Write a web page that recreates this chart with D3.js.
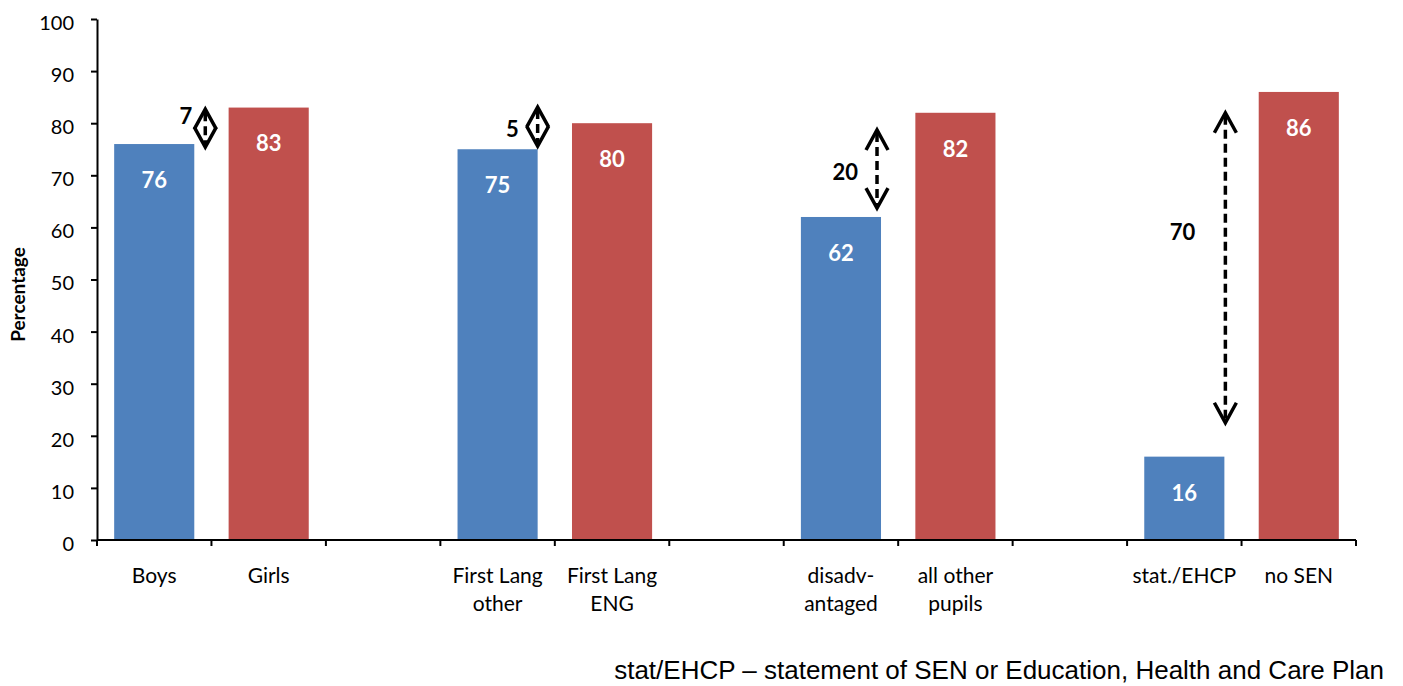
<!DOCTYPE html>
<html>
<head>
<meta charset="utf-8">
<script src="https://cdn.jsdelivr.net/npm/d3@7"></script>
<style>
  body { margin: 0; background: #fff; }
  svg { display: block; }
</style>
</head>
<body>
<svg width="1403" height="686"></svg>
<script>
// chart data
var categories = ["Boys", "Girls", "", "First Lang\nother", "First Lang\nENG", "",
                  "disadv-\nantaged", "all other\npupils", "", "stat./EHCP", "no SEN"];
var values = [76, 83, null, 75, 80, null, 62, 82, null, 16, 86];
var seriesOf = [0, 1, null, 0, 1, null, 0, 1, null, 0, 1];
var yTicks = [0, 10, 20, 30, 40, 50, 60, 70, 80, 90, 100];

// gap arrows (values in percentage units)
var gapLabels = [7, 5, 20, 70];
var gapCategory = [0, 3, 6, 9];
var gapTop = [82.7, 83.1, 78.7, 82];
var gapBottom = [75.4, 75.6, 63.7, 22.5];
var gapLabelY = [81.4, 78.9, 70.6, 59.1];

var footnote = "stat/EHCP \u2013 statement of SEN or Education, Health and Care Plan";

// layout / style
var colors = ["#4F81BD", "#C0504D"];
var arrowDx = [11, 0, -4, 1];
var labelDx = [-13, -19, -19, -30];
var font = "Lato, 'Open Sans', sans-serif";

var svg = d3.select("svg"),
    width = +svg.attr("width"),
    height = +svg.attr("height");

var plotLeft = 97, plotRight = 1356, plotTop = 19, plotBottom = 540;

var x = d3.scaleBand()
    .domain(d3.range(categories.length))
    .range([plotLeft, plotRight])
    .paddingInner(0.3)
    .paddingOuter(0.15);

var y = d3.scaleLinear()
    .domain([0, 100])
    .range([plotBottom, plotTop]);

// y axis
var yAxis = svg.append("g")
    .attr("transform", "translate(" + plotLeft + ",0)")
    .call(d3.axisLeft(y).tickValues(yTicks).tickSize(6).tickPadding(17).tickSizeOuter(0));
yAxis.select(".domain").attr("stroke", "#000").attr("stroke-width", 2);
yAxis.selectAll(".tick line").attr("stroke", "#000").attr("stroke-width", 2);
yAxis.selectAll(".tick text")
    .attr("font-family", font)
    .attr("font-size", 20)
    .attr("fill", "#000")
    .attr("dy", "0.52em");

svg.append("text")
    .attr("transform", "translate(25," + ((plotTop + plotBottom) / 2 + 15) + ") rotate(-90)")
    .attr("text-anchor", "middle")
    .attr("font-family", font)
    .attr("font-weight", "bold")
    .attr("font-size", 19)
    .text("Percentage");

// bars
var idx = d3.range(categories.length).filter(function(i) { return values[i] != null; });

svg.append("g").selectAll("rect")
    .data(idx)
    .enter().append("rect")
    .attr("x", function(i) { return x(i); })
    .attr("y", function(i) { return y(values[i]); })
    .attr("width", x.bandwidth())
    .attr("height", function(i) { return y(0) - y(values[i]); })
    .attr("fill", function(i) { return colors[seriesOf[i]]; });

svg.append("g").selectAll("text")
    .data(idx)
    .enter().append("text")
    .attr("x", function(i) { return x(i) + x.bandwidth() / 2; })
    .attr("y", function(i) { return y(values[i]) + 36; })
    .attr("dy", "0.36em")
    .attr("text-anchor", "middle")
    .attr("font-family", font)
    .attr("font-weight", "bold")
    .attr("font-size", 22)
    .attr("fill", "#fff")
    .text(function(i) { return values[i]; });

// x axis
var gapW = (x.step() - x.bandwidth()) / 2;
var bounds = d3.range(categories.length).map(function(i) { return x(i) - gapW; });
bounds.push(plotRight);

var xAxis = svg.append("g");
xAxis.append("line")
    .attr("x1", plotLeft).attr("x2", plotRight)
    .attr("y1", plotBottom).attr("y2", plotBottom)
    .attr("stroke", "#000").attr("stroke-width", 2);
xAxis.selectAll(".tk")
    .data(bounds)
    .enter().append("line")
    .attr("class", "tk")
    .attr("x1", function(d) { return d; }).attr("x2", function(d) { return d; })
    .attr("y1", plotBottom).attr("y2", plotBottom + 6)
    .attr("stroke", "#000").attr("stroke-width", 2);

var xl = xAxis.selectAll(".xl")
    .data(d3.range(categories.length))
    .enter().append("text")
    .attr("class", "xl")
    .attr("text-anchor", "middle")
    .attr("font-family", font)
    .attr("font-size", 21)
    .attr("fill", "#000");
xl.each(function(i) {
  var lines = categories[i].split("\n");
  var t = d3.select(this);
  lines.forEach(function(s, k) {
    t.append("tspan")
      .attr("x", x(i) + x.bandwidth() / 2)
      .attr("y", plotBottom + 43 + k * 28)
      .text(s);
  });
});

// gap arrows
var arrows = svg.append("g");
gapLabels.forEach(function(g, k) {
  var ax = x(gapCategory[k]) + x.bandwidth() + arrowDx[k];
  var y1 = y(gapTop[k]), y2 = y(gapBottom[k]);
  arrows.append("line")
    .attr("x1", ax).attr("x2", ax)
    .attr("y1", y1 + 3).attr("y2", y2 - 3)
    .attr("stroke", "#000")
    .attr("stroke-width", 3.5)
    .attr("stroke-dasharray", "9,5");
  arrows.append("path")
    .attr("d", "M" + (ax - 11) + "," + (y1 + 20) + "L" + ax + "," + y1 + "L" + (ax + 11) + "," + (y1 + 20))
    .attr("fill", "none").attr("stroke", "#000").attr("stroke-width", 3.5);
  arrows.append("path")
    .attr("d", "M" + (ax - 11) + "," + (y2 - 20) + "L" + ax + "," + y2 + "L" + (ax + 11) + "," + (y2 - 20))
    .attr("fill", "none").attr("stroke", "#000").attr("stroke-width", 3.5);
  arrows.append("text")
    .attr("x", ax + labelDx[k])
    .attr("y", y(gapLabelY[k]))
    .attr("dy", "0.36em")
    .attr("text-anchor", "end")
    .attr("font-family", font)
    .attr("font-weight", "bold")
    .attr("font-size", 22)
    .text(g);
});

// footnote
svg.append("text")
    .attr("x", 1384)
    .attr("y", 679)
    .attr("text-anchor", "end")
    .attr("font-family", "'Liberation Sans', Arial, sans-serif")
    .attr("font-size", 26)
    .text(footnote);
</script>
</body>
</html>
